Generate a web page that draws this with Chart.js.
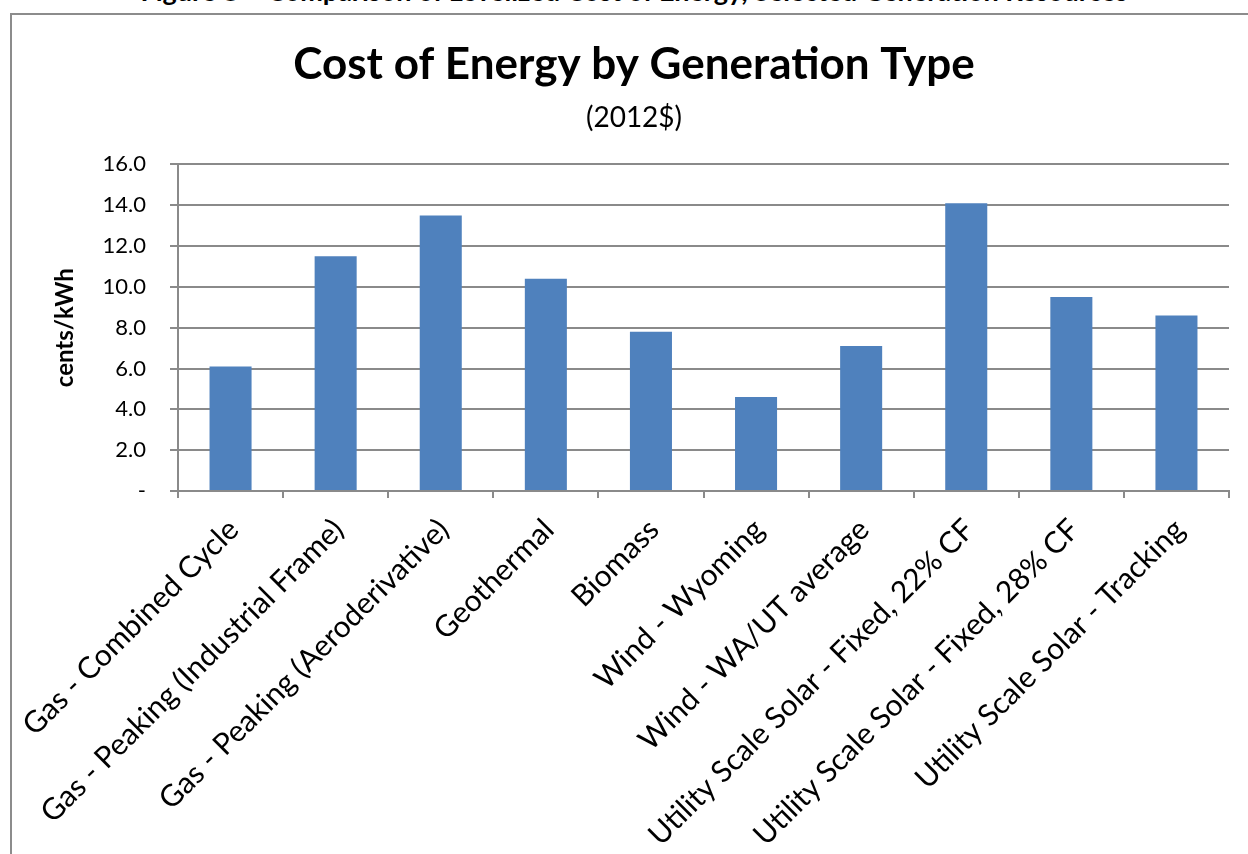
<!DOCTYPE html>
<html>
<head>
<meta charset="utf-8">
<script src="https://cdn.jsdelivr.net/npm/chart.js@4.4.1/dist/chart.umd.min.js"></script>
<style>
  html, body { margin: 0; padding: 0; background: #fff; overflow: hidden; }
  body { width: 1248px; height: 854px; position: relative; font-family: Lato, sans-serif; }
  #caption { position: absolute; left: 10px; width: 1248px; top: -26px; line-height: 22px;
             font: bold 27px Lato, sans-serif; text-align: center; color: #000; white-space: nowrap; }
  #frame { position: absolute; left: 10px; top: 13px; width: 1244px; height: 850px;
           border-left: 2px solid #8c8c8c; border-top: 2px solid #8c8c8c; background: #fff; }
  #frame canvas { display: block; }
</style>
</head>
<body>
<div id="caption">Figure 8 – Comparison of Levelized Cost of Energy, Selected Generation Resources</div>
<div id="frame"><canvas id="c"></canvas></div>
<script>
const categories = [
  'Gas - Combined Cycle',
  'Gas - Peaking (Industrial Frame)',
  'Gas - Peaking (Aeroderivative)',
  'Geothermal',
  'Biomass',
  'Wind - Wyoming',
  'Wind - WA/UT average',
  'Utility Scale Solar - Fixed, 22% CF',
  'Utility Scale Solar - Fixed, 28% CF',
  'Utility Scale Solar - Tracking'
];
const costs = [6.1, 11.5, 13.5, 10.4, 7.8, 4.6, 7.1, 14.1, 9.5, 8.6];
const yTickLabels = ['-', '2.0', '4.0', '6.0', '8.0', '10.0', '12.0', '14.0', '16.0'];
const chartTitle = 'Cost of Energy by Generation Type';
const chartSubtitle = '(2012$)';
const yAxisTitle = 'cents/kWh';

const GRID = '#8a8a8a';

function draw() {
  new Chart(document.getElementById('c'), {
    type: 'bar',
    data: {
      labels: categories,
      datasets: [{
        data: costs,
        backgroundColor: '#4F81BD',
        borderWidth: 0,
        barPercentage: 0.4,
        categoryPercentage: 1.0
      }]
    },
    options: {
      responsive: true,
      maintainAspectRatio: false,
      animation: false,
      layout: { padding: { left: 0, right: 0, top: 0, bottom: 0 } },
      plugins: {
        legend: { display: false },
        tooltip: { enabled: false },
        title: {
          display: true, text: chartTitle, color: '#000',
          font: { family: 'Lato', size: 44, weight: 'bold', lineHeight: 1.2 },
          padding: { top: 23, bottom: 0 }
        },
        subtitle: {
          display: true, text: chartSubtitle, color: '#000',
          font: { family: 'Lato', size: 28, weight: 'normal', lineHeight: 1.2 },
          padding: { top: 10, bottom: 30 }
        }
      },
      scales: {
        x: {
          grid: { display: true, drawOnChartArea: false, drawTicks: true, tickLength: 7,
                  color: GRID, lineWidth: 2, offset: true },
          border: { display: true, color: GRID, width: 2 },
          ticks: {
            autoSkip: false, minRotation: 45, maxRotation: 45,
            color: '#000', padding: 14, labelOffset: 3,
            font: { family: 'Lato', size: 30 }
          },
          afterFit: (s) => { s.height = 374; s.paddingLeft = 0; s.paddingRight = 27; }
        },
        y: {
          min: 0, max: 16,
          grid: { display: true, drawOnChartArea: true, drawTicks: true, tickLength: 8,
                  color: GRID, lineWidth: 2 },
          border: { display: true, color: GRID, width: 2 },
          ticks: {
            stepSize: 2, color: '#000', padding: 24,
            font: { family: 'Lato', size: 22 },
            callback: (v, i) => yTickLabels[i]
          },
          title: {
            display: true, text: yAxisTitle, color: '#000',
            font: { family: 'Lato', size: 24, weight: 'bold', lineHeight: 1.2 },
            padding: { top: 39, bottom: 0 }
          },
          afterFit: (s) => { s.width = 166; s.paddingTop = 0; s.paddingBottom = 0; }
        }
      }
    }
  });
}

Promise.all([
  document.fonts.load('bold 44px Lato'),
  document.fonts.load('30px Lato'),
  document.fonts.load('22px Lato')
]).then(draw, draw);
</script>
</body>
</html>
